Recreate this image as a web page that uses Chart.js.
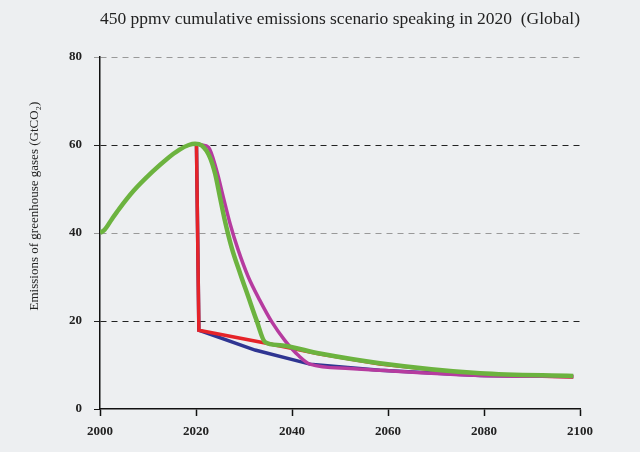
<!DOCTYPE html>
<html>
<head>
<meta charset="utf-8">
<script src="https://cdn.jsdelivr.net/npm/chart.js@4"></script>
<style>
  html, body { margin: 0; padding: 0; background: #edeff1; }
  #wrap { width: 640px; height: 452px; }
</style>
</head>
<body>
<div id="wrap"><canvas id="myChart"></canvas></div>
<script>
// data
const yTicks = [0, 20, 40, 60, 80];
const xTicks = [2000, 2020, 2040, 2060, 2080, 2100];

const greenYears = [2000, 2001, 2002.5, 2004, 2007, 2011, 2014, 2016.5, 2018.5, 2019.8, 2021.2, 2022.9, 2024, 2025, 2026, 2027.4, 2029.2, 2030.9, 2032.6, 2034.4, 2037.5, 2045.8, 2058.3, 2079.2, 2098.6];
const greenValues = [40, 40.8, 43.2, 45.5, 49.6, 54.0, 56.9, 58.9, 60.0, 60.3, 59.9, 57.2, 53.4, 48.1, 42.9, 36.8, 30.8, 25.5, 20.2, 15.2, 14.5, 12.6, 10.4, 8.1, 7.5];

const magentaYears = [2019.8, 2021.2, 2022.6, 2024.3, 2025.7, 2027.1, 2028.8, 2030.9, 2033.3, 2035.8, 2038.5, 2041.3, 2043.75, 2052, 2058.3, 2079.2, 2098.6];
const magentaValues = [60.3, 60.0, 59.5, 54.2, 48.1, 42.1, 36.1, 30.0, 24.7, 19.8, 15.6, 12.2, 10.2, 9.2, 8.8, 7.6, 7.4];

const redYears = [2020.1, 2020.6, 2034.4, 2045.8, 2058.3, 2079.2, 2098.6];
const redValues = [60.0, 17.9, 15.0, 12.5, 10.2, 7.8, 7.3];

const blueYears = [2020.1, 2020.6, 2032.3, 2043.75, 2058.3, 2079.2, 2098.6];
const blueValues = [60.0, 17.9, 13.4, 10.2, 8.8, 7.6, 7.4];

const toPoints = (xs, ys) => xs.map((x, i) => ({ x: x, y: ys[i] }));

// y axis title, placed by hand like in the picture
const yTitle = {
  id: 'yTitle',
  afterDraw(chart) {
    const c = chart.ctx;
    c.save();
    c.translate(35, 206);
    c.rotate(-Math.PI / 2);
    c.fillStyle = '#222';
    c.font = '13px "Liberation Serif"';
    c.textAlign = 'center';
    c.textBaseline = 'middle';
    c.fillText('Emissions of greenhouse gases (GtCO₂)', 0, 0);
    c.restore();
  },
};

const ctx = document.getElementById('myChart');
new Chart(ctx, {
  type: 'line',
  data: {
    datasets: [
      {
        label: 'Blue',
        data: toPoints(blueYears, blueValues),
        borderColor: '#2f3592',
        borderWidth: 3.5,
        tension: 0,
        order: 4,
      },
      {
        label: 'Red',
        data: toPoints(redYears, redValues),
        borderColor: '#e52329',
        borderWidth: 3.5,
        tension: 0,
        order: 3,
      },
      {
        label: 'Magenta',
        data: toPoints(magentaYears, magentaValues),
        borderColor: '#b63b9f',
        borderWidth: 3.5,
        cubicInterpolationMode: 'monotone',
        order: 2,
      },
      {
        label: 'Green',
        data: toPoints(greenYears, greenValues),
        borderColor: '#6cb33f',
        borderWidth: 4.5,
        cubicInterpolationMode: 'monotone',
        order: 1,
      },
    ],
  },
  options: {
    responsive: true,
    maintainAspectRatio: false,
    animation: false,
    events: [],
    elements: { point: { radius: 0 } },
    layout: { padding: { left: 0, right: 60, top: 0, bottom: 0 } },
    plugins: {
      legend: { display: false },
      tooltip: { enabled: false },
      title: {
        display: true,
        fullSize: false,
        text: '450 ppmv cumulative emissions scenario speaking in 2020  (Global)',
        color: '#222',
        font: { family: '"Liberation Serif"', size: 17.5, weight: 'normal' },
        padding: { top: 9, bottom: 27 },
      },
    },
    scales: {
      x: {
        type: 'linear',
        min: 2000,
        max: 2100,
        afterBuildTicks: (scale) => {
          scale.ticks = xTicks.map((v) => ({ value: v }));
        },
        afterFit: (scale) => {
          scale.height = 43;
        },
        grid: {
          drawOnChartArea: false,
          drawTicks: true,
          tickLength: 7,
          tickColor: '#111',
          tickWidth: 1.5,
        },
        border: { display: true, color: '#111', width: 1.5 },
        ticks: {
          color: '#222',
          padding: 8,
          maxRotation: 0,
          callback: (v) => String(v),
          font: { family: '"Liberation Serif"', size: 13, weight: 'bold' },
        },
      },
      y: {
        min: 0,
        max: 80,
        afterBuildTicks: (scale) => {
          scale.ticks = yTicks.map((v) => ({ value: v }));
        },
        afterFit: (scale) => {
          scale.width = 100;
        },
        grid: {
          drawTicks: true,
          tickLength: 6,
          lineWidth: 1,
          color: (c) => {
            const v = c.tick && c.tick.value;
            if (v === 0) return 'rgba(0,0,0,0)';
            return v === 40 || v === 80 ? '#999' : '#222';
          },
          tickColor: (c) => {
            const v = c.tick && c.tick.value;
            if (v === 0) return '#111';
            return v === 40 || v === 80 ? '#999' : '#222';
          },
          tickWidth: 1,
        },
        border: { display: true, color: '#111', width: 1.5, dash: [6, 5] },
        ticks: {
          color: '#222',
          padding: 12,
          font: { family: '"Liberation Serif"', size: 13, weight: 'bold' },
        },
      },
    },
  },
  plugins: [yTitle],
});
</script>
</body>
</html>
